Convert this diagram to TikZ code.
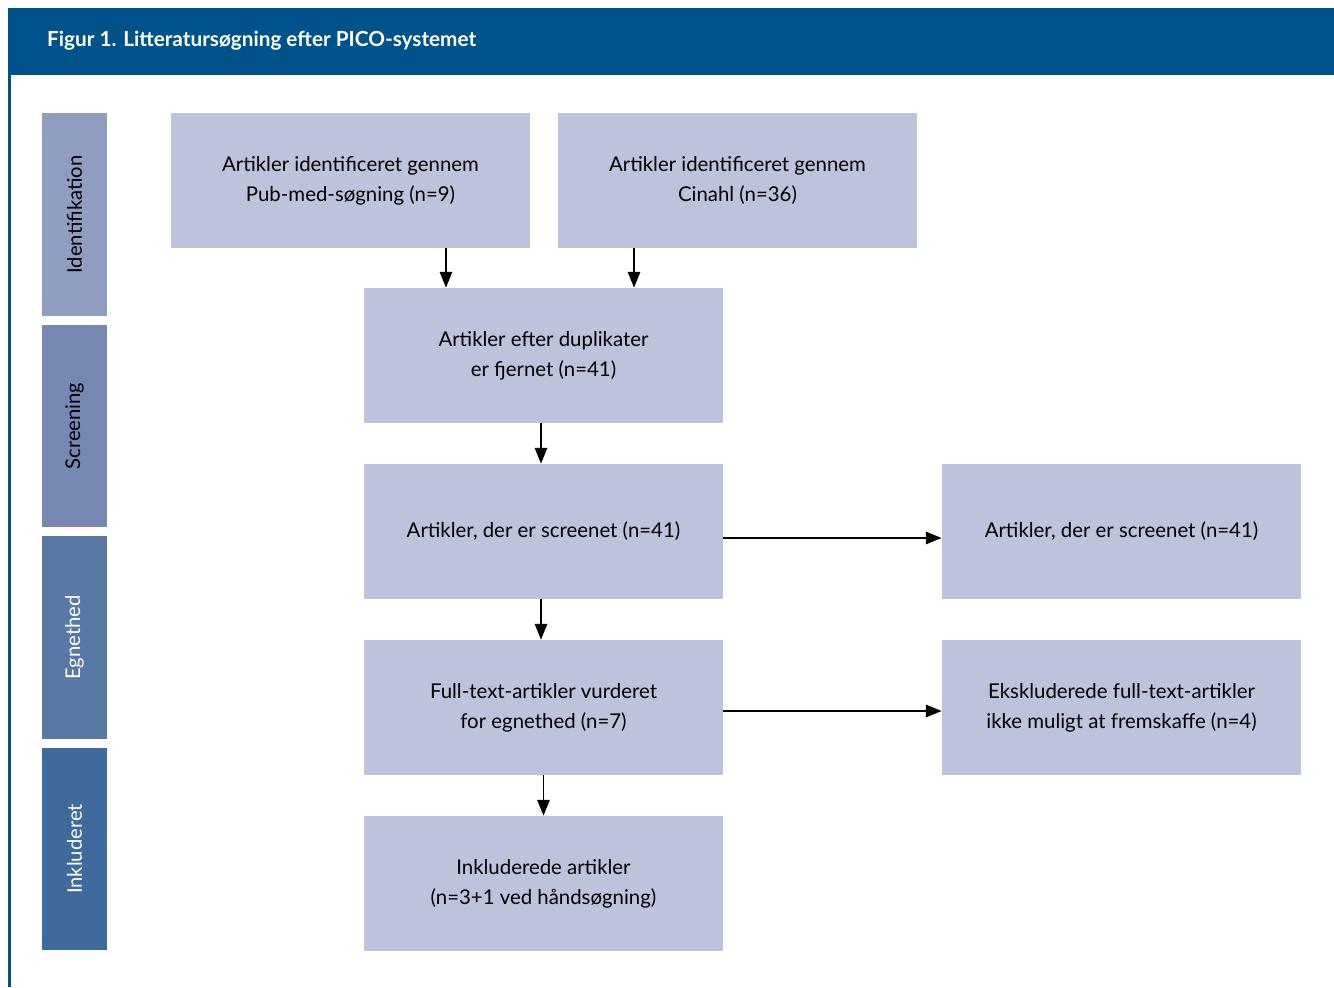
\documentclass[tikz,border=0pt]{standalone}
\usepackage{fontspec}
\setmainfont{Lato}
\usepackage{xcolor}
\usetikzlibrary{arrows.meta,positioning,calc}
\definecolor{headblue}{HTML}{00528A}
\definecolor{boxfill}{HTML}{BDC3DA}
\definecolor{phaseA}{HTML}{8F9DC0}
\definecolor{phaseB}{HTML}{7688B2}
\definecolor{phaseC}{HTML}{5A78A6}
\definecolor{phaseD}{HTML}{3E6A9C}
\tikzset{
    flowbox/.style={fill=boxfill, minimum width=7.18cm, minimum height=2.7cm,
        align=center, inner sep=0pt, font=\fontsize{11.6}{17}\selectfont},
    phasebar/.style={minimum width=4.06cm, minimum height=1.3cm, inner sep=0pt,
        rotate=90, font=\fontsize{11.5}{13}\selectfont},
    flowarrow/.style={-{Triangle[width=7pt,length=9pt]}, line width=1.1pt}
}

\begin{document}
\begin{tikzpicture}[x=0.02cm, y=-0.02cm]
    \useasboundingbox (0,0) rectangle (1334,987);

    % Header band
    \fill[headblue] (8,8) rectangle (1334,75);
    \draw[headblue, line width=1.2pt] (9.5,75) -- (9.5,987);
    \node[anchor=west, text=white, font=\fontsize{11.8}{15}\selectfont\bfseries] (title) at (41,41)
        {Figur 1. Litteratursøgning efter PICO-systemet};

    % Phase bars
    \node[phasebar, fill=phaseA, text=black] (ident) at (74.5,214.5) {Identifikation};
    \node[phasebar, fill=phaseB, text=black] (screen) at (74.5,426) {Screening};
    \node[phasebar, fill=phaseC, text=white] (egn) at (74.5,637.5) {Egnethed};
    \node[phasebar, fill=phaseD, text=white] (inkl) at (74.5,849) {Inkluderet};

    % Flow boxes
    \node[flowbox] (pubmed) at (350.5,180.5) {Artikler identificeret gennem\\Pub-med-søgning (n=9)};
    \node[flowbox] (cinahl) at (737.5,180.5) {Artikler identificeret gennem\\Cinahl (n=36)};
    \node[flowbox] (dupl) at (543.5,355.5) {Artikler efter duplikater\\er fjernet (n=41)};
    \node[flowbox] (screened) at (543.5,531.5) {Artikler, der er screenet (n=41)};
    \node[flowbox] (screenedx) at (1121.5,531.5) {Artikler, der er screenet (n=41)};
    \node[flowbox] (fulltext) at (543.5,707.5) {Full-text-artikler vurderet\\for egnethed (n=7)};
    \node[flowbox] (excluded) at (1121.5,707.5) {Ekskluderede full-text-artikler\\ikke muligt at fremskaffe (n=4)};
    \node[flowbox] (included) at (543.5,883.5) {Inkluderede artikler\\(n=3+1 ved håndsøgning)};

    % Arrows
    \draw[flowarrow] ([xshift=1.91cm]pubmed.south) -- ([xshift=1.91cm]pubmed.south |- dupl.north);
    \draw[flowarrow] ([xshift=-2.07cm]cinahl.south) -- ([xshift=-2.07cm]cinahl.south |- dupl.north);
    \draw[flowarrow] ([xshift=-0.05cm]dupl.south) -- ([xshift=-0.05cm]screened.north);
    \draw[flowarrow] ([xshift=-0.05cm]screened.south) -- ([xshift=-0.05cm]fulltext.north);
    \draw[flowarrow] (fulltext.south) -- (included.north);
    \draw[flowarrow] ([yshift=-0.13cm]screened.east) -- ([yshift=-0.13cm]screenedx.west);
    \draw[flowarrow] ([yshift=-0.07cm]fulltext.east) -- ([yshift=-0.07cm]excluded.west);
\end{tikzpicture}
\end{document}
